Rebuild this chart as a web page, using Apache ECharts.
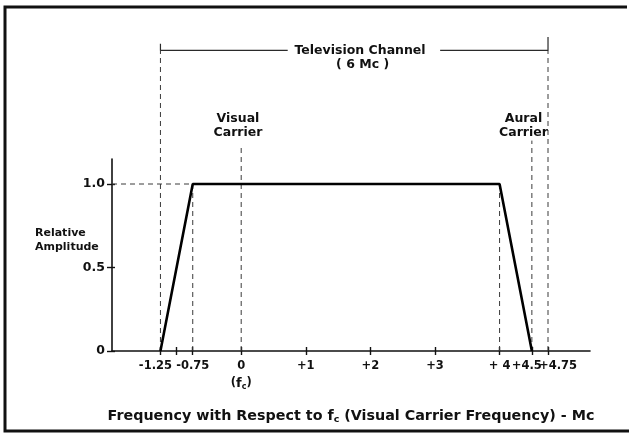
<!DOCTYPE html>
<html>
<head>
<meta charset="utf-8">
<script src="https://cdn.jsdelivr.net/npm/echarts@6/dist/echarts.min.js"></script>
<style>
html,body{margin:0;padding:0;background:#fff;}
#chart{width:629px;height:437px;}
</style>
</head>
<body>
<div id="chart"></div>
<script>
// ---- data ----
const responseX = [-1.25, -0.75, 4, 4.5];
const responseY = [0, 1, 1, 0];

const xTickValues = [-1.25, -1, -0.75, 0, 1, 2, 3, 4, 4.5, 4.75];
const xLabelValues = [-1.25, -0.75, 0, 1, 2, 3, 4, 4.5, 4.75];
const xLabelTexts = ['{l|-1.25}', '{n|-0.75}', '0\n({f|f}{s|c})', '+1', '+2', '+3', '{n|+ 4}', '{l|+4.5}', '{r|+4.75}'];
// labels are split across two stacked axes so that close neighbours are both drawn
const xLabelSetA = [-1.25, 0, 2, 4, 4.75];
const xLabelSetB = [-0.75, 1, 3, 4.5];

const yTickValues = [0, 0.5, 1];
const yLabelTexts = ['0', '0.5', '1.0'];

// dashed guide lines (data coordinates)
const guideDashed = [
  [[-1.25, 0], [-1.25, 1.8]],
  [[-0.75, 0], [-0.75, 1]],
  [[0, 0], [0, 1.23]],
  [[4, 0], [4, 1]],
  [[4.5, 0], [4.5, 1.26]],
  [[4.75, 0], [4.75, 1.8]],
  [[-2, 1], [-0.75, 1]]
];
// channel bracket (solid)
const bracketSolid = [
  [[-1.25, 1.84], [-1.25, 1.8], [0.72, 1.8]],
  [[3.08, 1.8], [4.75, 1.8], [4.75, 1.88]]
];
const annotationX = [1.84, 1.88, -0.05, 4.37];
const annotationY = [1.8, 1.715, 1.35, 1.35];
const annotationText = ['Television Channel', '( 6 Mc )', 'Visual\nCarrier', 'Aural\nCarrier'];

const xAxisTitle = 'Frequency with Respect to {f|f}{s|c} (Visual Carrier Frequency) - Mc';
const yAxisTitle = 'Relative\nAmplitude';

// ---- chart ----
const FONT = 'DejaVu Sans';
const INK = '#111';
const chart = echarts.init(document.getElementById('chart'), null, {renderer: 'canvas'});

const series = [];
guideDashed.forEach(seg => {
  series.push({
    type: 'line', xAxisIndex: 1, yAxisIndex: 1, data: seg, symbol: 'none',
    silent: true, clip: false, z: 2,
    lineStyle: {color: '#3a3a3a', width: 1, type: [5, 4]}
  });
});
bracketSolid.forEach(seg => {
  series.push({
    type: 'line', xAxisIndex: 1, yAxisIndex: 1, data: seg, symbol: 'none',
    silent: true, clip: false, z: 2,
    lineStyle: {color: '#2a2a2a', width: 1.2}
  });
});
series.push({
  type: 'scatter', xAxisIndex: 1, yAxisIndex: 1, symbol: 'circle', symbolSize: 1, clip: false, z: 5,
  silent: true,
  itemStyle: {color: 'rgba(0,0,0,0)'},
  data: annotationX.map((x, i) => [x, annotationY[i]]),
  label: {
    show: true, position: 'inside', color: INK, opacity: 1, textBorderWidth: 0,
    fontFamily: FONT, fontWeight: 'bold',
    fontSize: 12.5, lineHeight: 14, align: 'center',
    formatter: p => annotationText[p.dataIndex]
  }
});
series.push({
  type: 'line', xAxisIndex: 0, yAxisIndex: 0,
  data: responseX.map((x, i) => [x, responseY[i]]),
  symbol: 'none', z: 10,
  lineStyle: {color: '#000', width: 2.6}
});

const labelRich = {
  f: {fontSize: 13, fontFamily: FONT, fontWeight: 'bold', color: INK},
  s: {fontSize: 8, fontFamily: FONT, fontWeight: 'bold', color: INK, padding: [7, 0, 0, 0]},
  l: {fontSize: 11.5, fontFamily: FONT, fontWeight: 'bold', color: INK, padding: [0, 10, 0, 0]},
  n: {fontSize: 11.5, fontFamily: FONT, fontWeight: 'bold', color: INK},
  r: {fontSize: 11.5, fontFamily: FONT, fontWeight: 'bold', color: INK, padding: [0, 0, 0, 20]}
};
function xLabelFormatter(v) {
  const i = xLabelValues.findIndex(t => Math.abs(t - v) < 1e-9);
  return i >= 0 ? xLabelTexts[i] : '';
}
function xLabelOpts(values) {
  return {
    show: true, customValues: values, hideOverlap: false, showMinLabel: true, showMaxLabel: true,
    color: INK, fontFamily: FONT, fontWeight: 'bold',
    fontSize: 11.5, margin: 7, lineHeight: 17,
    formatter: xLabelFormatter, rich: labelRich
  };
}

const option = {
  animation: false,
  backgroundColor: '#fff',
  textStyle: {fontFamily: FONT},
  grid: [
    {left: 112, right: 39, top: 159, bottom: 86},
    {left: 112, right: 39, top: 17, bottom: 86}
  ],
  xAxis: [
    {
      type: 'value', gridIndex: 0, min: -2, max: 5.4,
      splitLine: {show: false},
      axisLine: {show: true, onZero: false, lineStyle: {color: INK, width: 1.6}},
      axisTick: {show: true, length: 4, customValues: xTickValues, lineStyle: {color: INK, width: 1.4}},
      axisLabel: xLabelOpts(xLabelSetA),
      name: xAxisTitle, nameLocation: 'middle', nameGap: 56,
      nameTextStyle: {
        color: INK, fontFamily: FONT, fontWeight: 'bold', fontSize: 14.3,
        rich: {
          f: {fontSize: 14.3, fontFamily: FONT, fontWeight: 'bold', color: INK},
          s: {fontSize: 9.5, fontFamily: FONT, fontWeight: 'bold', color: INK, padding: [8, 0, 0, 0]}
        }
      }
    },
    {
      type: 'value', gridIndex: 1, min: -2, max: 5.4, position: 'bottom',
      splitLine: {show: false}, axisLine: {show: false, onZero: false},
      axisLabel: xLabelOpts(xLabelSetB),
      axisTick: {show: true, inside: true, length: 4, customValues: xTickValues, lineStyle: {color: INK, width: 1.4}}
    }
  ],
  yAxis: [
    {
      type: 'value', gridIndex: 0, min: 0, max: 1.15,
      splitLine: {show: false},
      axisLine: {show: true, onZero: false, lineStyle: {color: INK, width: 1.6}},
      axisTick: {show: true, length: 5, customValues: yTickValues, lineStyle: {color: INK, width: 1.4}},
      axisLabel: {
        show: true, customValues: yTickValues, color: INK, fontFamily: FONT, fontWeight: 'bold',
        fontSize: 12.5, margin: 7,
        formatter: v => { const i = yTickValues.findIndex(t => Math.abs(t - v) < 1e-9); return i >= 0 ? yLabelTexts[i] : ''; }
      }
    },
    {
      type: 'value', gridIndex: 1, min: 0, max: 2,
      splitLine: {show: false}, axisLine: {show: false, onZero: false}, axisLabel: {show: false},
      axisTick: {show: true, inside: true, length: 3, customValues: yTickValues, lineStyle: {color: INK, width: 1.4}}
    }
  ],
  graphic: [
    {
      type: 'polyline', silent: true, z: 100,
      shape: {points: [[627, 7], [5, 7], [5, 431], [629, 431]]},
      style: {stroke: '#111', lineWidth: 3, fill: null}
    },
    {
      type: 'text', left: 35, top: 226, silent: true,
      style: {text: yAxisTitle, fill: INK, font: 'bold 11px "DejaVu Sans"', lineHeight: 14}
    }
  ],
  series: series
};
chart.setOption(option);
</script>
</body>
</html>
